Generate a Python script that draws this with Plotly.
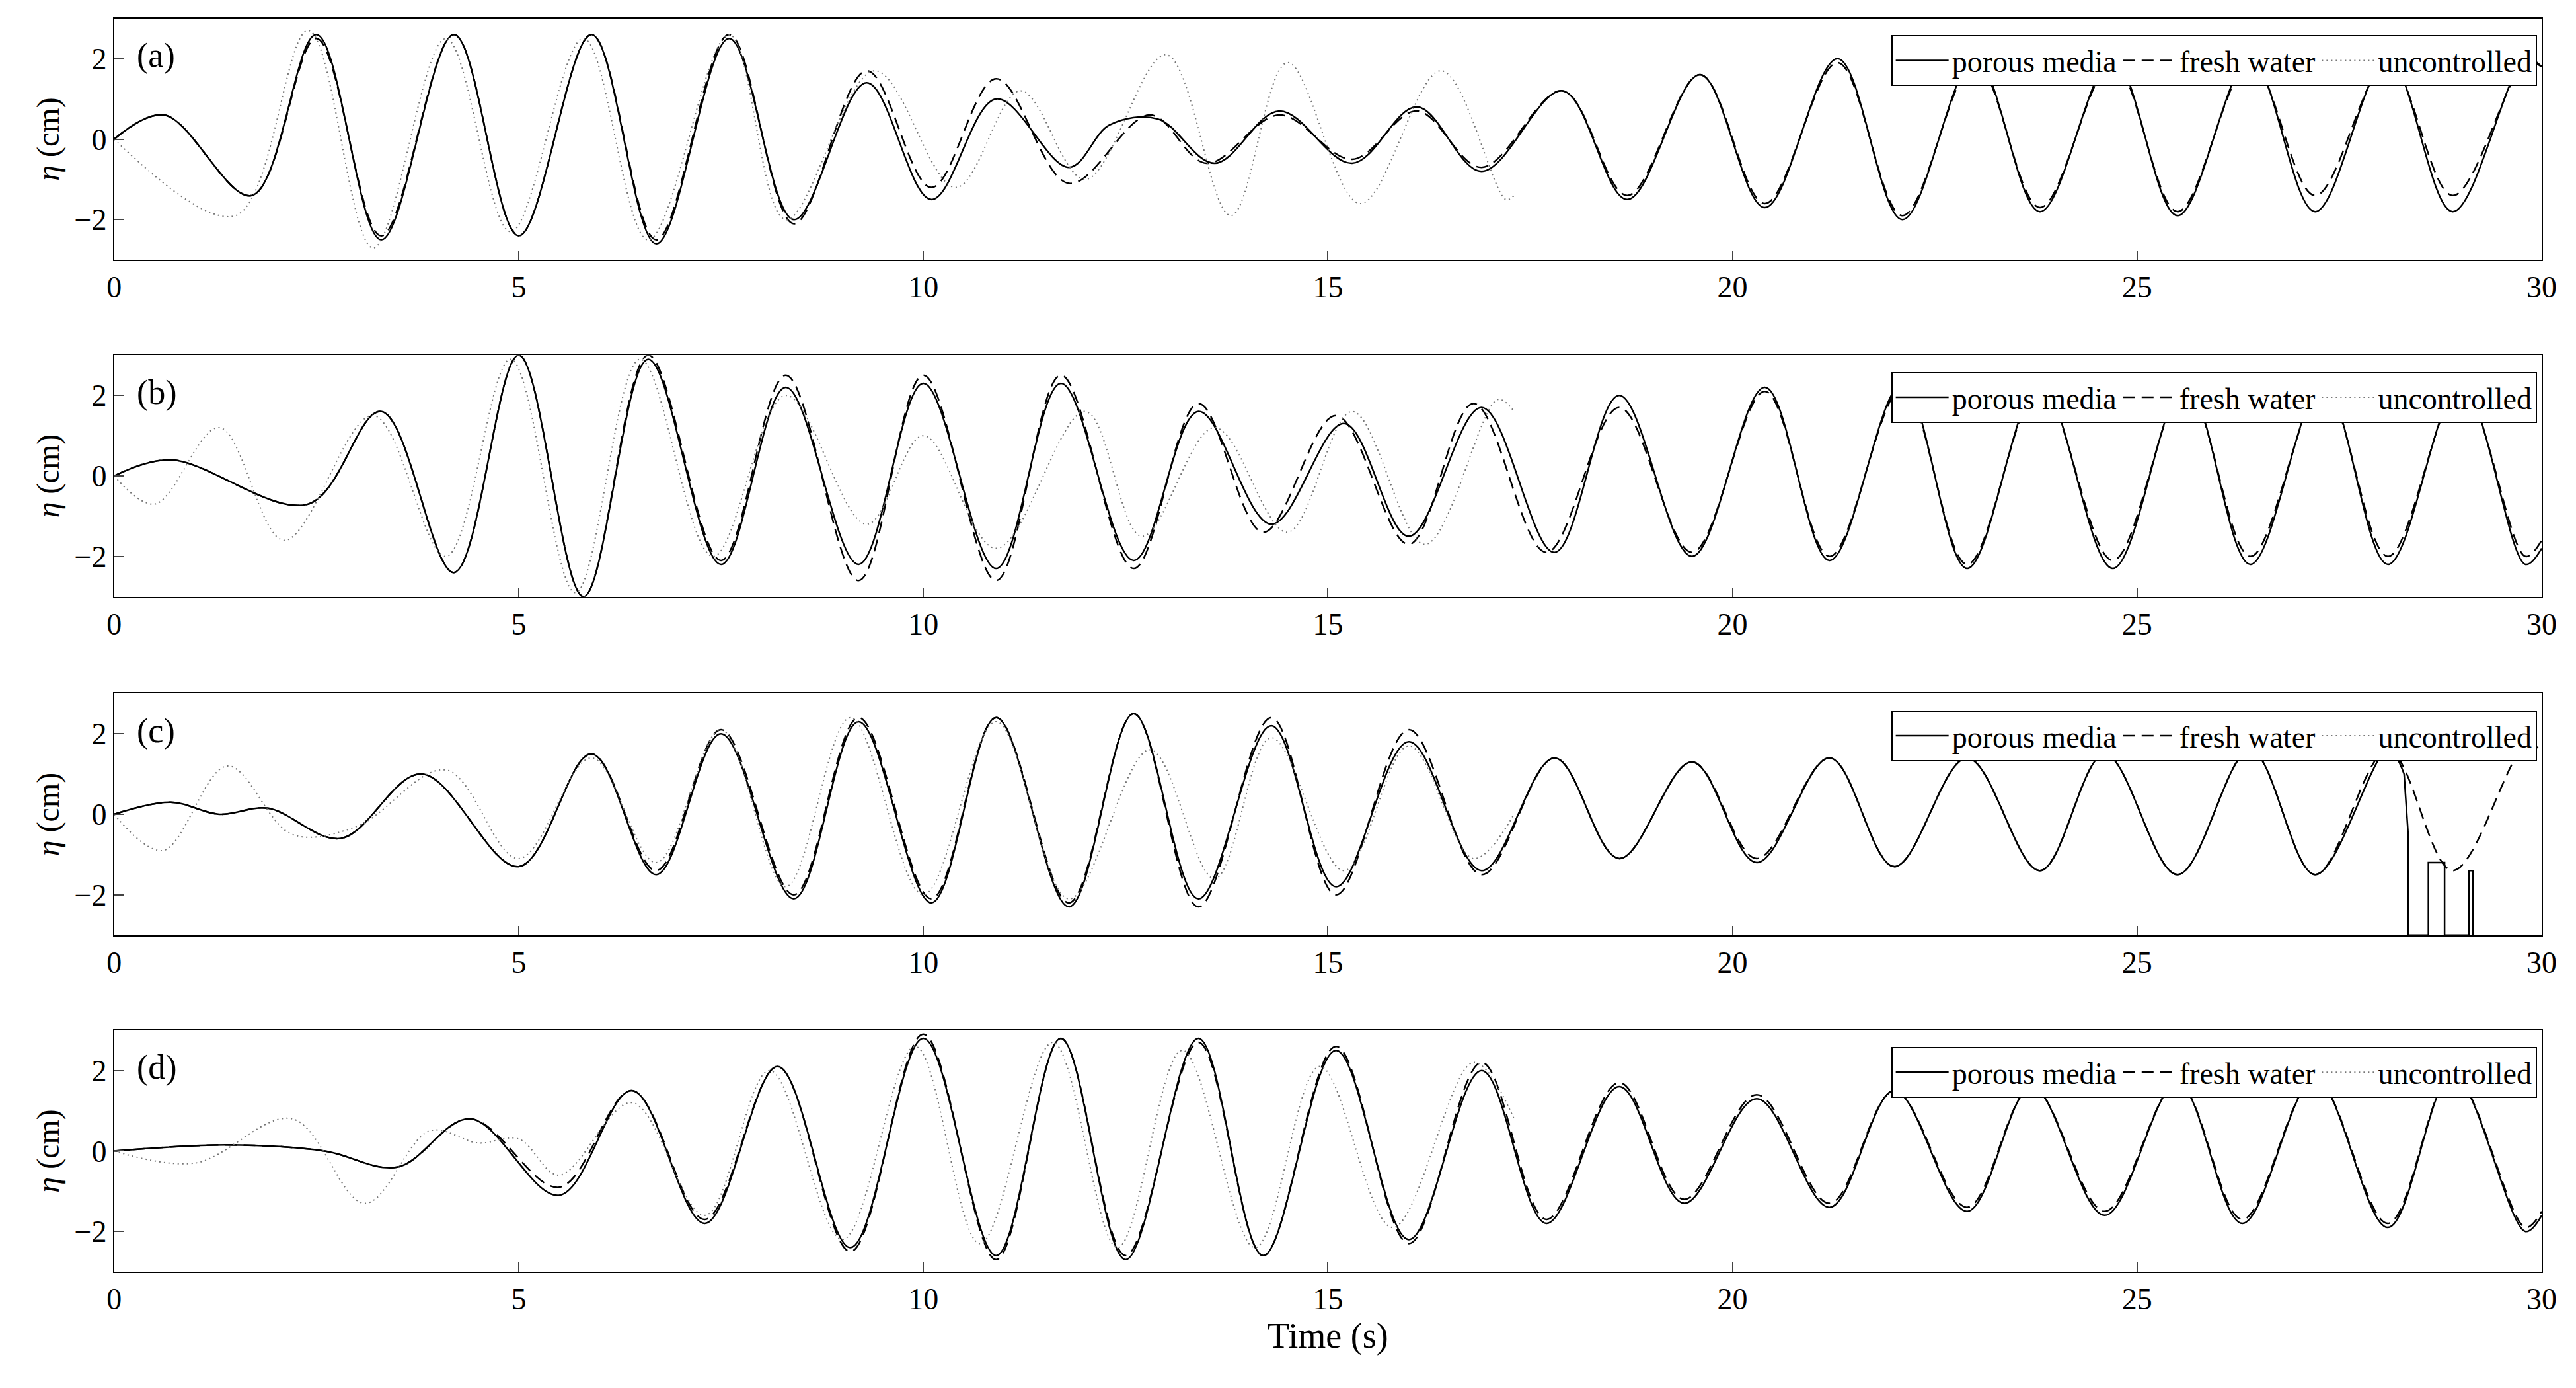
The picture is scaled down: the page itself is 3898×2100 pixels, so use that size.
import plotly.graph_objects as go

# ---- data: extrema (time s, eta cm) ----
a_por_t = [0,0.62,1.7,2.5,3.3,4.2,5.0,5.9,6.7,7.6,8.4,9.3,10.1,10.9,11.8,12.3,12.9,13.6,14.4,15.3,16.1,16.9,17.9,18.7,19.6,20.4,21.3,22.1,23.0,23.8,24.7,25.5,26.4,27.2,28.1,28.9,29.8,30]
a_por_y = [0,0.6,-1.4,2.6,-2.5,2.6,-2.4,2.6,-2.6,2.5,-2.0,1.4,-1.5,1.0,-0.7,0.35,0.5,-0.6,0.7,-0.6,0.8,-0.8,1.2,-1.5,1.6,-1.7,2.0,-2.0,2.0,-1.8,2.0,-1.9,2.0,-1.8,2.0,-1.8,2.0,1.8]
a_fre_t = [0,0.62,1.7,2.5,3.3,4.2,5.0,5.9,6.7,7.6,8.4,9.3,10.1,10.9,11.8,12.8,13.5,14.4,15.3,16.1,16.9,17.9,18.7,19.6,20.4,21.3,22.1,23.0,23.8,24.7,25.5,26.4,27.2,28.1,28.9,29.8,30]
a_fre_y = [0,0.6,-1.4,2.5,-2.4,2.6,-2.4,2.6,-2.5,2.6,-2.1,1.7,-1.2,1.5,-1.1,0.6,-0.6,0.6,-0.5,0.7,-0.7,1.2,-1.4,1.6,-1.6,1.9,-1.9,1.9,-1.7,1.9,-1.8,1.9,-1.4,1.9,-1.4,1.9,1.8]
a_unc_t = [0,1.5,2.4,3.2,4.1,4.9,5.8,6.6,7.6,8.3,9.4,10.4,11.2,12.0,13.0,13.8,14.5,15.4,16.4,17.2,17.3]
a_unc_y = [0,-1.9,2.7,-2.7,2.5,-2.3,2.5,-2.5,2.6,-2.0,1.7,-1.2,1.2,-1.0,2.1,-1.9,1.9,-1.6,1.7,-1.5,-1.4]

b_por_t = [0,0.7,2.4,3.3,4.2,5.0,5.8,6.6,7.5,8.3,9.2,10.0,10.9,11.7,12.6,13.4,14.3,15.2,16.0,16.9,17.8,18.6,19.5,20.4,21.2,22.1,22.9,23.8,24.7,25.6,26.4,27.3,28.1,29.0,29.8,30]
b_por_y = [0,0.4,-0.7,1.6,-2.4,3.0,-3.0,2.9,-2.2,2.2,-2.2,2.3,-2.3,2.3,-2.1,1.6,-1.2,1.3,-1.5,1.7,-1.9,2.0,-2.0,2.2,-2.1,2.3,-2.3,2.3,-2.3,2.3,-2.2,2.3,-2.2,2.3,-2.2,-1.8]
b_fre_t = [0,0.7,2.4,3.3,4.2,5.0,5.8,6.6,7.5,8.3,9.2,10.0,10.9,11.7,12.6,13.4,14.2,15.1,16.0,16.8,17.7,18.6,19.5,20.4,21.2,22.1,22.9,23.8,24.7,25.6,26.4,27.3,28.1,29.0,29.8,30]
b_fre_y = [0,0.4,-0.7,1.6,-2.4,3.0,-3.0,3.0,-2.1,2.5,-2.6,2.5,-2.6,2.5,-2.3,1.8,-1.4,1.5,-1.7,1.8,-1.9,1.7,-1.9,2.1,-2.0,2.2,-2.2,2.2,-2.1,2.2,-2.0,2.2,-2.0,2.2,-2.0,-1.6]
b_unc_t = [0,0.5,1.3,2.1,3.2,4.1,4.9,5.7,6.5,7.4,8.3,9.3,10.0,10.9,12.0,12.7,13.6,14.5,15.3,16.2,17.1,17.3]
b_unc_y = [0,-0.7,1.2,-1.6,1.5,-2.0,2.9,-2.9,2.9,-2.0,2.0,-1.2,1.0,-1.8,1.6,-1.5,1.2,-1.4,1.6,-1.7,1.9,1.6]

c_por_t = [0,0.7,1.3,1.9,2.8,3.8,5.0,5.9,6.7,7.5,8.4,9.2,10.1,10.9,11.8,12.6,13.4,14.3,15.1,16.0,16.9,17.8,18.6,19.5,20.3,21.2,22.0,22.9,23.8,24.6,25.5,26.4,27.2,28.1,28.3]
c_por_y = [0,0.3,0.0,0.15,-0.6,1.0,-1.3,1.5,-1.5,2.0,-2.1,2.3,-2.2,2.4,-2.3,2.5,-2.1,2.2,-1.8,1.8,-1.4,1.4,-1.1,1.3,-1.2,1.4,-1.3,1.4,-1.4,1.5,-1.5,1.6,-1.5,1.6,1.0]
c_art_t = [28.3,28.35,28.35,28.6,28.6,28.8,28.8,29.1,29.1,29.15,29.15]
c_art_y = [1.0,-0.5,-3.0,-3.0,-1.2,-1.2,-3.0,-3.0,-1.4,-1.4,-3.0]
c_fre_t = [0,0.7,1.3,1.9,2.8,3.8,5.0,5.9,6.7,7.5,8.4,9.2,10.1,10.9,11.8,12.6,13.4,14.3,15.1,16.0,16.9,17.8,18.6,19.5,20.3,21.2,22.0,22.9,23.8,24.6,25.5,26.4,27.2,28.1,28.9,29.8,30]
c_fre_y = [0,0.3,0.0,0.15,-0.6,1.0,-1.3,1.5,-1.4,2.1,-2.0,2.4,-2.1,2.4,-2.2,2.5,-2.3,2.4,-2.0,2.1,-1.5,1.4,-1.1,1.3,-1.1,1.4,-1.3,1.4,-1.4,1.5,-1.5,1.6,-1.5,1.6,-1.4,1.7,1.6]
c_unc_t = [0,0.6,1.4,2.2,3.0,4.1,5.0,5.9,6.7,7.5,8.3,9.1,10.0,10.9,11.8,12.8,13.6,14.3,15.2,16.0,16.8,17.3]
c_unc_y = [0,-0.9,1.2,-0.5,-0.3,1.1,-1.1,1.4,-1.2,2.1,-1.8,2.4,-2.0,2.3,-2.1,1.6,-1.6,1.9,-1.4,1.7,-1.1,0.0]

d_por_t = [0,1.4,2.6,3.5,4.4,5.5,6.4,7.3,8.2,9.1,10.0,10.9,11.7,12.5,13.4,14.2,15.1,16.0,16.9,17.7,18.6,19.4,20.3,21.2,22.0,22.9,23.7,24.6,25.5,26.3,27.2,28.1,28.9,29.8,30]
d_por_y = [0,0.15,0.0,-0.4,0.8,-1.1,1.5,-1.8,2.1,-2.4,2.8,-2.6,2.8,-2.7,2.8,-2.6,2.5,-2.2,2.0,-1.8,1.6,-1.3,1.3,-1.4,1.5,-1.5,1.6,-1.6,1.7,-1.8,1.8,-1.9,1.9,-2.0,-1.6]
d_fre_t = [0,1.4,2.6,3.5,4.4,5.5,6.4,7.3,8.2,9.1,10.0,10.9,11.7,12.5,13.4,14.2,15.1,16.0,16.9,17.7,18.6,19.4,20.3,21.2,22.0,22.9,23.7,24.6,25.5,26.3,27.2,28.1,28.9,29.8,30]
d_fre_y = [0,0.15,0.0,-0.4,0.8,-0.9,1.5,-1.7,2.1,-2.5,2.9,-2.7,2.8,-2.6,2.7,-2.6,2.6,-2.3,2.2,-1.7,1.7,-1.2,1.4,-1.3,1.5,-1.4,1.6,-1.5,1.7,-1.7,1.8,-1.8,1.9,-1.9,-1.5]
d_unc_t = [0,1.0,2.2,3.1,3.9,4.5,5.0,5.5,6.4,7.3,8.1,9.0,9.9,10.7,11.6,12.4,13.2,14.1,14.9,15.8,16.8,17.3]
d_unc_y = [0,-0.3,0.8,-1.3,0.5,0.2,0.3,-0.6,1.2,-1.6,2.0,-2.2,2.6,-2.3,2.7,-2.4,2.5,-2.4,2.1,-1.9,2.2,0.8]

panels = [("(a)", a_por_t, a_por_y, a_fre_t, a_fre_y, a_unc_t, a_unc_y),
          ("(b)", b_por_t, b_por_y, b_fre_t, b_fre_y, b_unc_t, b_unc_y),
          ("(c)", c_por_t, c_por_y, c_fre_t, c_fre_y, c_unc_t, c_unc_y),
          ("(d)", d_por_t, d_por_y, d_fre_t, d_fre_y, d_unc_t, d_unc_y)]
xticks = [0, 5, 10, 15, 20, 25, 30]
yticks = [-2, 0, 2]

W, H = 3898, 2100
FONT = "Liberation Serif, Times New Roman, serif"
dom = [(1 - 155/845, 1 - 8/845), (1 - 360/845, 1 - 213/845),
       (1 - 566/845, 1 - 419/845), (1 - 771/845, 1 - 624/845)]

fig = go.Figure()
for i, (lab, pt, py, ft, fy, ut, uy) in enumerate(panels):
    n = i + 1
    xa, ya = ("x" if n == 1 else f"x{n}"), ("y" if n == 1 else f"y{n}")
    lg = "legend" if n == 1 else f"legend{n}"
    common = dict(xaxis=xa, yaxis=ya, mode="lines", legend=lg)
    fig.add_trace(go.Scatter(x=pt, y=py, name="porous media",
                             line=dict(color="black", width=2.5, shape="spline", smoothing=1.0), **common))
    fig.add_trace(go.Scatter(x=ft, y=fy, name="fresh water",
                             line=dict(color="black", width=2.5, dash="18px,10px", shape="spline", smoothing=1.0), **common))
    fig.add_trace(go.Scatter(x=ut, y=uy, name="uncontrolled",
                             line=dict(color="#777777", width=2, dash="2px,5px", shape="spline", smoothing=1.0), **common))
    if n == 3:
        fig.add_trace(go.Scatter(x=c_art_t, y=c_art_y, showlegend=False,
                                 line=dict(color="black", width=2.5), **common))
    axstyle = dict(showline=True, linecolor="black", linewidth=2, mirror=True,
                   ticks="inside", ticklen=14, tickwidth=2, showgrid=False, zeroline=False,
                   tickfont=dict(family=FONT, size=46, color="black"))
    fig.update_layout(**{
        ("xaxis" if n == 1 else f"xaxis{n}"): dict(domain=[62/1568, 1553/1568], range=[0, 30],
                                                   tickvals=xticks, anchor=ya, **axstyle,
                                                   title=dict(text="Time (s)", font=dict(family=FONT, size=54), standoff=10) if n == 4 else None),
        ("yaxis" if n == 1 else f"yaxis{n}"): dict(domain=list(dom[i]), range=[-3, 3],
                                                   tickvals=yticks, anchor=xa, **axstyle,
                                                   title=dict(text="<i>η</i> (cm)", font=dict(family=FONT, size=48), standoff=8)),
        lg: dict(x=1550/1568, y=dom[i][1] - 0.012, xanchor="right", yanchor="top", orientation="h",
                 bgcolor="white", bordercolor="black", borderwidth=2,
                 font=dict(family=FONT, size=46, color="black"), tracegroupgap=0,
                 itemwidth=80),
    })
    fig.add_annotation(text=lab, x=75/1568, y=dom[i][1] - 0.012, xref="paper", yref="paper",
                       xanchor="left", yanchor="top", showarrow=False,
                       font=dict(family=FONT, size=52, color="black"))

fig.update_layout(width=W, height=H, margin=dict(l=0, r=0, t=0, b=0),
                  plot_bgcolor="white", paper_bgcolor="white", font=dict(family=FONT, color="black"))
fig.write_html("out.html")
